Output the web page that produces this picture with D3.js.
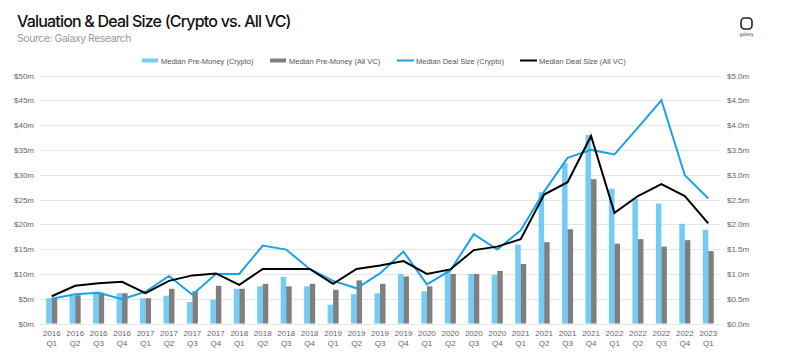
<!DOCTYPE html>
<html><head><meta charset="utf-8">
<script src="https://cdn.jsdelivr.net/npm/d3@7"></script>
<style>
body{margin:0;background:#fff;}
svg{display:block;}
</style></head>
<body>
<svg id="chart" width="797" height="354"></svg>
<script>
const quarters = ["2016 Q1","2016 Q2","2016 Q3","2016 Q4","2017 Q1","2017 Q2","2017 Q3","2017 Q4","2018 Q1","2018 Q2","2018 Q3","2018 Q4","2019 Q1","2019 Q2","2019 Q3","2019 Q4","2020 Q1","2020 Q2","2020 Q3","2020 Q4","2021 Q1","2021 Q2","2021 Q3","2021 Q4","2022 Q1","2022 Q2","2022 Q3","2022 Q4","2023 Q1"];
const preMoneyCrypto = [5.1,5.6,6.2,6.1,5.1,5.6,4.3,4.8,7.0,7.5,9.4,7.5,3.8,5.9,6.1,10.0,6.5,10.7,10.0,9.8,15.9,26.5,32.3,38.0,27.2,25.2,24.2,20.1,18.9];
const preMoneyAllVC = [5.1,5.7,6.2,6.1,5.1,7.0,6.5,7.6,7.0,8.0,7.5,8.0,6.8,8.7,8.0,9.5,7.5,10.0,10.0,10.6,12.0,16.4,19.0,29.1,16.1,17.0,15.5,16.8,14.6];
const dealSizeCrypto = [0.50,0.59,0.62,0.49,0.64,0.96,0.58,1.00,1.00,1.57,1.49,1.10,0.86,0.71,1.01,1.45,0.79,1.07,1.80,1.49,1.88,2.66,3.34,3.50,3.41,3.95,4.50,2.99,2.52];
const dealSizeAllVC = [0.55,0.76,0.81,0.84,0.61,0.86,0.97,1.01,0.78,1.10,1.10,1.10,0.80,1.10,1.17,1.26,1.00,1.09,1.48,1.55,1.70,2.60,2.85,3.78,2.23,2.57,2.81,2.57,2.02];
const leftTicks = [0,5,10,15,20,25,30,35,40,45,50];
const rightTicks = [0,0.5,1,1.5,2,2.5,3,3.5,4,4.5,5];
const legendItems = [
  {label:"Median Pre-Money (Crypto)", type:"bar", color:"#73CCF5"},
  {label:"Median Pre-Money (All VC)", type:"bar", color:"#7F7F7F"},
  {label:"Median Deal Size (Crypto)", type:"line", color:"#1AA3E8"},
  {label:"Median Deal Size (All VC)", type:"line", color:"#000000"}
];

const C_CRYPTO_BAR="#73CCF5", C_VC_BAR="#7F7F7F", C_CRYPTO_LINE="#1AA3E8", C_VC_LINE="#000000";
const svg = d3.select("#chart");
const pLeft=40, pRight=720, pTop=75.5, pBottom=323.5;

const x = d3.scaleBand().domain(quarters).range([pLeft,pRight]).paddingInner(0.53).paddingOuter(0.265);
const yL = d3.scaleLinear().domain([0,50]).range([pBottom,pTop]);
const yR = d3.scaleLinear().domain([0,5]).range([pBottom,pTop]);

// title
svg.append("text").attr("x",17).attr("y",27).text("Valuation & Deal Size (Crypto vs. All VC)")
  .attr("font-family","Inter, 'Open Sans', sans-serif").attr("font-size",16).attr("font-weight",500)
  .attr("letter-spacing",-0.8).attr("fill","#111");
svg.append("text").attr("x",17).attr("y",42).text("Source: Galaxy Research")
  .attr("font-family","Inter, 'Open Sans', sans-serif").attr("font-size",10.5)
  .attr("letter-spacing",-0.45).attr("fill","#9a9a9a");

// logo
svg.append("rect").attr("x",741).attr("y",18).attr("width",11).attr("height",11).attr("rx",3.5)
  .attr("fill","none").attr("stroke","#222").attr("stroke-width",1.6);
svg.append("text").attr("x",746.5).attr("y",36).attr("text-anchor","middle").text("galaxy")
  .attr("font-family","Inter, sans-serif").attr("font-size",4.5).attr("fill","#444");

// gridlines
const grid = svg.append("g");
grid.selectAll("line").data(leftTicks).join("line")
  .attr("x1",pLeft).attr("x2",pRight).attr("y1",d=>Math.round(yL(d))+0.5).attr("y2",d=>Math.round(yL(d))+0.5)
  .attr("stroke","#e4e6ea").attr("stroke-width",1);

// axes
const fontAxis = "'Liberation Sans', Arial, sans-serif";
const gL = svg.append("g").attr("transform",`translate(${pLeft},0)`)
  .call(d3.axisLeft(yL).tickValues(leftTicks).tickSize(0).tickPadding(6).tickFormat(d=>"$"+d+"m"));
const gR = svg.append("g").attr("transform",`translate(${pRight},0)`)
  .call(d3.axisRight(yR).tickValues(rightTicks).tickSize(0).tickPadding(7).tickFormat(d=>"$"+d.toFixed(1)+"m"));
[gL,gR].forEach(g=>{
  g.select(".domain").remove();
  g.selectAll("text").attr("font-family",fontAxis).attr("font-size",8).attr("fill","#666");
});
const gX = svg.append("g").attr("transform",`translate(0,${pBottom})`)
  .call(d3.axisBottom(x).tickSize(0).tickPadding(0).tickFormat(""));
gX.select(".domain").remove();
gX.selectAll(".tick").each(function(d){
  const parts=d.split(" ");
  const t=d3.select(this).append("text").attr("fill","#666").attr("font-family",fontAxis).attr("font-size",8).attr("text-anchor","middle");
  t.append("tspan").attr("x",0).attr("y",12).text(parts[0]);
  t.append("tspan").attr("x",0).attr("y",22).text(parts[1]);
});

// bars
const bw = x.bandwidth()/2;
svg.append("g").selectAll("rect").data(quarters).join("rect")
  .attr("x",d=>x(d)).attr("width",bw)
  .attr("y",(d,i)=>yL(preMoneyCrypto[i])).attr("height",(d,i)=>pBottom-yL(preMoneyCrypto[i]))
  .attr("fill",C_CRYPTO_BAR);
svg.append("g").selectAll("rect").data(quarters).join("rect")
  .attr("x",d=>x(d)+bw).attr("width",bw)
  .attr("y",(d,i)=>yL(preMoneyAllVC[i])).attr("height",(d,i)=>pBottom-yL(preMoneyAllVC[i]))
  .attr("fill",C_VC_BAR);

// lines
const line = d3.line().x(d=>x(d[0])+x.bandwidth()/2).y(d=>yR(d[1]));
svg.append("path").datum(quarters.map((q,i)=>[q,dealSizeCrypto[i]])).attr("d",line)
  .attr("fill","none").attr("stroke",C_CRYPTO_LINE).attr("stroke-width",2).attr("stroke-linejoin","miter");
svg.append("path").datum(quarters.map((q,i)=>[q,dealSizeAllVC[i]])).attr("d",line)
  .attr("fill","none").attr("stroke",C_VC_LINE).attr("stroke-width",2).attr("stroke-linejoin","miter");

// legend
const legX = [142,270,397,520];
const lg = svg.append("g");
legendItems.forEach((it,i)=>{
  const g = lg.append("g").attr("transform",`translate(${legX[i]},60.5)`);
  if(it.type==="bar") g.append("rect").attr("x",0).attr("y",-2).attr("width",16).attr("height",4).attr("fill",it.color);
  else g.append("line").attr("x1",0).attr("x2",17).attr("y1",0).attr("y2",0).attr("stroke",it.color).attr("stroke-width",2);
  g.append("text").attr("x",19).attr("y",3).text(it.label).attr("font-family",fontAxis)
    .attr("font-size",7.5).attr("fill","#555");
});
</script>
</body></html>
